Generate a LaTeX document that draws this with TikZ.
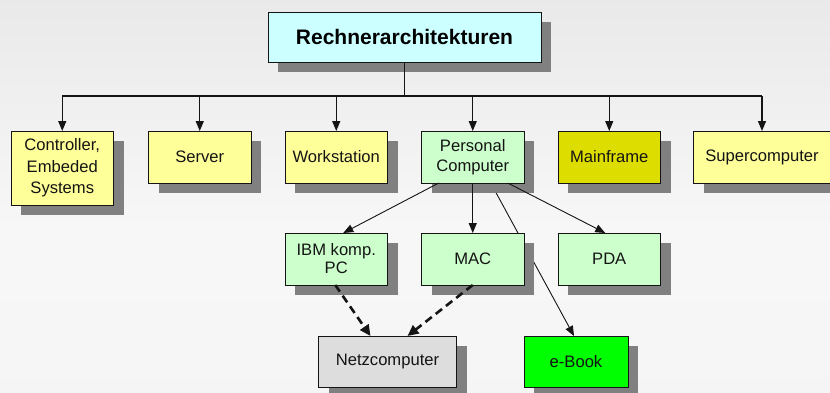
\documentclass[tikz,border=0pt]{standalone}
\usepackage{fontspec}
\setmainfont{Liberation Sans}
\usetikzlibrary{arrows.meta, positioning, shadows, backgrounds, calc}
\definecolor{ccyan}{HTML}{CCFFFF}
\definecolor{cyel}{HTML}{FFFF99}
\definecolor{cgrn}{HTML}{CCFFCC}
\definecolor{cmain}{HTML}{DDDD00}
\definecolor{cnet}{HTML}{DDDDDD}
\definecolor{cbook}{HTML}{00FF00}
\definecolor{cshadow}{HTML}{808080}
\definecolor{cline}{HTML}{141414}
\pgfdeclareverticalshading{bgshade}{100bp}{color(0bp)=(black!10); color(20bp)=(black!4); color(45bp)=(black!3); color(100bp)=(black!13)}

\begin{document}
\begin{tikzpicture}[
  x=1pt, y=-1pt,
  font=\fontsize{16.6}{20}\selectfont,
  >={Triangle[length=10pt, width=8pt]},
  node distance=50pt and 34pt,
  box/.style={draw=cline, line width=0.9pt, align=center, inner sep=0pt, outer sep=0pt,
              minimum height=52pt, minimum width=102.5pt, text=cline,
              drop shadow={shadow xshift=10pt, shadow yshift=-10pt,
                           fill=cshadow, opacity=1}},
  head/.style={box, fill=ccyan, minimum width=273pt, minimum height=50pt,
               font=\fontsize{21}{24}\selectfont\bfseries, text=black},
  yel/.style={box, fill=cyel},
  grn/.style={box, fill=cgrn},
  arr/.style={->, line width=1.3pt, draw=cline},
  thinarr/.style={->, line width=0.9pt, draw=cline},
  dasharr/.style={->, line width=2.6pt, draw=cline, dash pattern=on 8pt off 5pt,
                  >={Triangle[length=11pt, width=10pt]}},
  ]
\useasboundingbox (0,0) rectangle (830,392);
\clip (0,0) rectangle (830,392);
\begin{scope}[on background layer]
  \shade[shading=bgshade] (0,0) rectangle (830,392);
\end{scope}

\node[head] (rech) at (404.5,37) {Rechnerarchitekturen};

\node[yel, minimum height=74pt, anchor=north west, font=\fontsize{16.6}{21.5}\selectfont]
  (ctrl) at (11,131) {Controller,\\Embeded\\Systems};
\node[yel, right=35pt of ctrl.north east, anchor=north west] (server) {Server};
\node[yel, right=of server] (ws) {Workstation};
\node[grn, right=of ws] (pc) {Personal\\Computer};
\node[box, fill=cmain, right=of pc] (main) {Mainframe};
\node[yel, right=33pt of main, anchor=west, minimum width=137pt] (super) {Supercomputer};

\node[grn, below=of ws, font=\fontsize{16.6}{18}\selectfont] (ibm) {IBM komp.\\PC};
\node[grn, below=of pc] (mac) {MAC};
\node[grn, below=of main] (pda) {PDA};

\node[box, fill=cnet, minimum width=138pt, minimum height=51pt,
      below=51pt of ibm.south east] (netz) {Netzcomputer};
\node[box, fill=cbook, minimum width=104pt, minimum height=51pt,
      below=51pt of mac.south east, anchor=north west] (ebook) {e-Book};

\draw[line width=1.3pt, draw=cline] (rech.south) -- ++(0,34) coordinate (bus);
\draw[line width=1.3pt, draw=cline] (bus -| ctrl) -- (bus -| super);
\foreach \n in {ctrl,server,ws,pc,main,super}
  \draw[arr] (bus -| \n) -- (\n.north);

\draw[thinarr] ([xshift=-34pt]pc.south) -- ([xshift=7pt]ibm.north);
\draw[arr] (pc) -- (mac);
\draw[thinarr] ([xshift=35pt]pc.south) -- ([xshift=-4pt]pda.north);
\begin{scope}[on background layer]
  \draw[thinarr] ([xshift=18pt]pc.south) -- ([xshift=-2pt]ebook.north);
\end{scope}

\draw[dasharr] ([xshift=-1pt]ibm.south) -- ([xshift=-17pt]netz.north);
\draw[dasharr] (mac.south) -- ([xshift=20pt]netz.north);
\end{tikzpicture}
\end{document}
